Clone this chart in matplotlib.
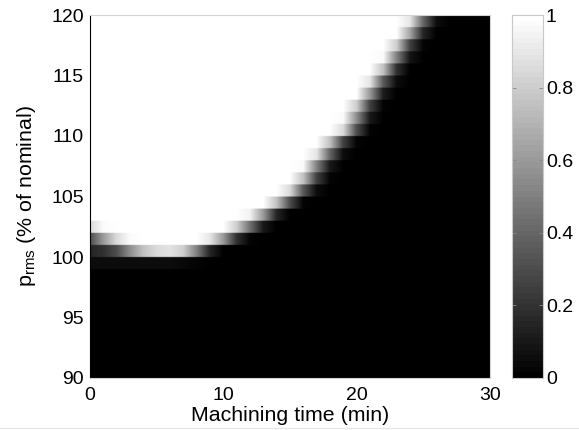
import numpy as np
import matplotlib
matplotlib.use("Agg")
import matplotlib.pyplot as plt
from matplotlib.lines import Line2D

plt.rcParams['font.family'] = ['Liberation Sans', 'DejaVu Sans']
plt.rcParams['mathtext.fontset'] = 'custom'
plt.rcParams['mathtext.rm'] = 'Liberation Sans'
plt.rcParams['mathtext.it'] = 'Liberation Sans'

# ---- data ----
time_min = np.arange(0, 31)            # sample columns, minutes
p_levels = np.arange(90, 121)          # row edges, % of nominal
x_ticks = [0, 10, 20, 30]
y_ticks = [90, 95, 100, 105, 110, 115, 120]
cbar_ticks = [0, 0.2, 0.4, 0.6, 0.8, 1]
cbar_labels = ['0', '0.2', '0.4', '0.6', '0.8', '1']

Z = [0.0] * 31
row_90 = Z
row_91 = Z
row_92 = Z
row_93 = Z
row_94 = Z
row_95 = Z
row_96 = Z
row_97 = Z
row_98 = Z
row_99 = [0.05, 0.05, 0.05, 0.05, 0.05, 0.05, 0.05, 0.04, 0.02] + [0.0] * 22
row_100 = [0.15, 0.2, 0.3, 0.55, 0.75, 0.85, 0.88, 0.8, 0.5, 0.15] + [0.0] * 21
row_101 = [0.3, 0.6, 0.85, 0.97, 1, 1, 1, 1, 1, 0.9, 0.6, 0.2, 0.03] + [0.0] * 18
row_102 = [0.85, 0.97] + [1.0] * 9 + [0.8, 0.45, 0.1] + [0.0] * 17
row_103 = [1.0] * 12 + [0.95, 0.6, 0.15] + [0.0] * 16
row_104 = [1.0] * 14 + [0.75, 0.3, 0.03] + [0.0] * 14
row_105 = [1.0] * 15 + [0.85, 0.35, 0.05] + [0.0] * 13
row_106 = [1.0] * 16 + [0.75, 0.25, 0.02] + [0.0] * 12
row_107 = [1.0] * 16 + [0.97, 0.5, 0.1] + [0.0] * 12
row_108 = [1.0] * 17 + [0.9, 0.4, 0.05] + [0.0] * 11
row_109 = [1.0] * 18 + [0.75, 0.25, 0.02] + [0.0] * 10
row_110 = [1.0] * 19 + [0.85, 0.3, 0.03] + [0.0] * 9
row_111 = [1.0] * 19 + [0.97, 0.55, 0.1] + [0.0] * 9
row_112 = [1.0] * 20 + [0.8, 0.25, 0.02] + [0.0] * 8
row_113 = [1.0] * 21 + [0.6, 0.12] + [0.0] * 8
row_114 = [1.0] * 21 + [0.9, 0.35, 0.05] + [0.0] * 7
row_115 = [1.0] * 22 + [0.75, 0.2] + [0.0] * 7
row_116 = [1.0] * 22 + [0.97, 0.5, 0.08] + [0.0] * 6
row_117 = [1.0] * 23 + [0.8, 0.25, 0.02] + [0.0] * 5
row_118 = [1.0] * 24 + [0.65, 0.15] + [0.0] * 5
row_119 = [1.0] * 24 + [0.9, 0.4, 0.05] + [0.0] * 4

rows = [row_90, row_91, row_92, row_93, row_94, row_95, row_96, row_97, row_98,
        row_99, row_100, row_101, row_102, row_103, row_104, row_105, row_106,
        row_107, row_108, row_109, row_110, row_111, row_112, row_113, row_114,
        row_115, row_116, row_117, row_118, row_119]
grid = np.array(rows, dtype=float)

# ---- figure ----
W_PX, H_PX = 579, 430
FS = 14
FS_LAB = 15.4
fig = plt.figure(figsize=(W_PX / 100, H_PX / 100), dpi=100)
ax = fig.add_axes([90 / W_PX, 1 - 378 / H_PX, 400 / W_PX, 363 / H_PX])
cax = fig.add_axes([512 / W_PX, 1 - 378 / H_PX, 31 / W_PX, 363 / H_PX])

cmap = plt.get_cmap('gray', 64)
# repeat rows so bilinear interpolation acts only along the time axis
rep = 40
img_data = np.repeat(grid, rep, axis=0)
dt = time_min[1] - time_min[0]
im = ax.imshow(img_data, cmap=cmap, vmin=0, vmax=1, origin='lower', aspect='auto',
               interpolation='bilinear',
               extent=[time_min[0] - dt / 2, time_min[-1] + dt / 2, p_levels[0], p_levels[-1]])
ax.set_xlim(0, 30)
ax.set_ylim(90, 120)
ax.set_xticks(x_ticks)
ax.set_yticks(y_ticks)
ax.tick_params(direction='in', length=0, labelsize=FS, colors='black')
ax.tick_params(axis='x', pad=6.5)
ax.tick_params(axis='y', pad=4.5)
for s in ['top', 'right', 'bottom']:
    ax.spines[s].set_color('#d4d4d4')
    ax.spines[s].set_linewidth(0.8)
ax.spines['left'].set_color('black')
ax.spines['left'].set_linestyle((0, (1, 1)))
ax.spines['left'].set_linewidth(0.8)

ax.set_xlabel('Machining time (min)', fontsize=FS_LAB)
ax.xaxis.set_label_coords(0.5, -(406 - 378) / 363)
ax.set_ylabel(r'p$_{\mathrm{rms}}$ (% of nominal)', fontsize=FS_LAB)
ax.yaxis.set_label_coords(-(90 - 38) / 400, 0.5)

cb = fig.colorbar(im, cax=cax, ticks=cbar_ticks)
cb.ax.set_yticklabels(cbar_labels)
cb.ax.tick_params(direction='in', length=3, labelsize=FS, width=0.6, color='#888888',
                  left=True, right=True, pad=2)
cb.outline.set_edgecolor('#c8c8c8')
cb.outline.set_linewidth(0.8)

fig.add_artist(Line2D([0, 1], [1 - 427.5 / H_PX] * 2, color='#e6e6e6', lw=1,
                      transform=fig.transFigure))

fig.savefig('out.png', dpi=100)
